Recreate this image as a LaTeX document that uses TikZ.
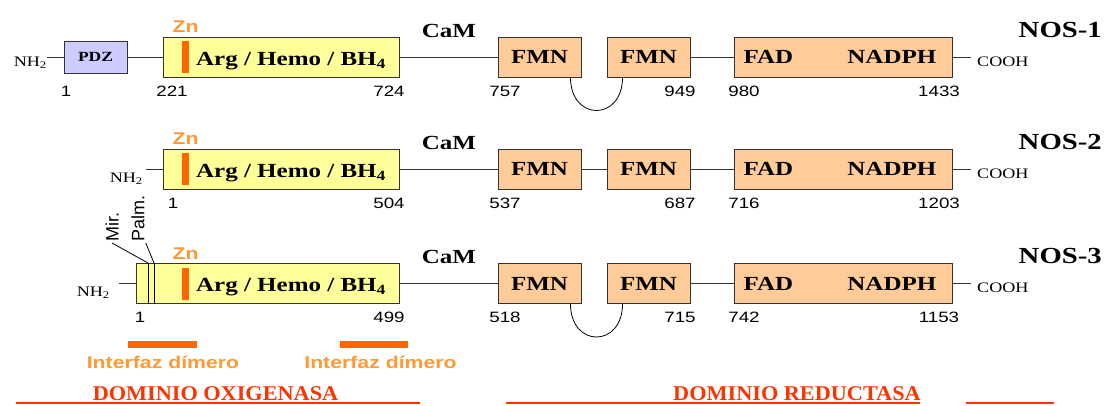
\documentclass[tikz,border=0pt]{standalone}
\usepackage{fontspec}
\setmainfont{Liberation Serif}[FakeStretch=1.25]
\newfontfamily\arialw{Liberation Sans}[FakeStretch=1.25]
\newfontfamily\arialn{Liberation Sans}
\newfontfamily\domfont{Liberation Serif}[FakeStretch=1.06]
\usepackage{tikz}
\usetikzlibrary{positioning}

\definecolor{pdzfill}{HTML}{CCCCFF}
\definecolor{argfill}{HTML}{FFFF99}
\definecolor{redfill}{HTML}{FFCC99}
\definecolor{znorange}{HTML}{FF9933}
\definecolor{barorange}{HTML}{FF6600}
\definecolor{domred}{HTML}{FF3300}

\begin{document}
\begin{tikzpicture}[
		x=1pt,y=-1pt,
		dombox/.style={
			draw=black!80,
			line width=1pt,
			rectangle,
			inner sep=0pt,
			minimum height=40pt
		},
		pdzbox/.style={dombox, fill=pdzfill, minimum width=63pt, minimum height=32pt,
			font=\bfseries\fontsize{14}{14}\selectfont},
		argbox/.style={dombox, fill=argfill},
		redbox/.style={dombox, fill=redfill, font=\bfseries\fontsize{20}{20}\selectfont},
		fmnbox/.style={redbox, minimum width=83pt},
		boxlbl/.style={font=\bfseries\fontsize{20}{20}\selectfont, inner sep=0pt},
		camlbl/.style={font=\bfseries\fontsize{20}{20}\selectfont, inner sep=0pt, anchor=base},
		noslbl/.style={font=\bfseries\fontsize{23}{23}\selectfont, inner sep=0pt, anchor=base east},
		znbar/.style={fill=barorange, minimum width=7pt, minimum height=32pt, inner sep=0pt},
		znlbl/.style={text=znorange, font=\arialw\bfseries\fontsize{17}{17}\selectfont, inner sep=0pt},
		resnum/.style={font=\arialw\fontsize{15}{15}\selectfont, inner sep=0pt, anchor=base},
		term/.style={font=\fontsize{14.5}{14.5}\selectfont, inner sep=0pt},
		rotlbl/.style={rotate=90, font=\arialn\fontsize{18}{18}\selectfont, inner sep=1pt},
		ifbar/.style={fill=barorange, minimum height=7pt, inner sep=0pt},
		iflbl/.style={text=znorange, font=\arialw\bfseries\fontsize{17}{17}\selectfont, inner sep=0pt, anchor=base},
		domlbl/.style={text=domred, font=\domfont\bfseries\fontsize{21}{21}\selectfont, inner sep=0pt, anchor=base},
		link/.style={draw=black!80, line width=1pt},
		thinline/.style={draw=black, line width=0.8pt},
		domline/.style={draw=domred, line width=1.5pt}
		]
		\useasboundingbox (0,0) rectangle (1106,405);
		
		% Rows NOS-1, NOS-2, NOS-3
		\foreach \r/\yc/\aw/\sa/\sx/\ea/\na/\nb/\nc/\nd in {
			1/57/236/221/172/724/757/949/980/1433,
			2/169/236/1/173/504/537/687/716/1203,
			3/283.5/263/1/140/499/518/715/742/1153} {
			% Oxygenase part
			\node[argbox, minimum width=\aw pt, anchor=east] (arg\r) at (400,\yc) {};
			\node[znbar] (bar\r) at (185.5,\yc) {};
			\node[znlbl] (zn\r) at (185.5,{\yc-30}) {Zn};
			\node[boxlbl, anchor=base] (argtxt\r) at (291,{\yc+8}) {Arg / Hemo / BH\textsubscript{4}};
			\node[resnum] at (\sx,{\yc+39}) {\sa};
			\node[resnum] at (389,{\yc+39}) {\ea};
			% CaM and reductase part
			\node[camlbl] (cam\r) at (449,{\yc-20}) {CaM};
			\node[fmnbox] (fmnA\r) at (539.5,\yc) {FMN};
			\node[fmnbox] (fmnB\r) at (648.5,\yc) {FMN};
			\node[redbox, minimum width=218pt] (fad\r) at (843,\yc) {};
			\node[boxlbl, anchor=west] at ([xshift=10pt]fad\r.west) {FAD};
			\node[boxlbl, anchor=east] at ([xshift=-16pt]fad\r.east) {NADPH};
			\node[resnum] at (505,{\yc+39}) {\na};
			\node[resnum] at (680,{\yc+39}) {\nb};
			\node[resnum] at (744,{\yc+39}) {\nc};
			\node[resnum] at (939,{\yc+39}) {\nd};
			\node[term, anchor=base west] (cooh\r) at (977,{\yc+9}) {COOH};
			\node[noslbl] (nos\r) at (1102,{\yc-20}) {NOS-\r};
			% Connectors
			\draw[link] (arg\r) -- (fmnA\r);
			\draw[link] (fmnB\r) -- (fad\r);
			\draw[link] (fad\r.east) -- ([xshift=-6pt]cooh\r.west |- fad\r.east);
		}
		
		% N-terminal ends
		\node[term, anchor=base east] (nh1) at (47,66) {NH\textsubscript{2}};
		\node[pdzbox] (pdz1) at (95.5,57) {PDZ};
		\node[resnum] at (66,96) {1};
		\draw[link] (nh1.east |- pdz1.west) -- (pdz1.west);
		\draw[link] (pdz1) -- (arg1);
		
		\node[term, anchor=base east] (nh2) at (143,182) {NH\textsubscript{2}};
		\draw[link] ([xshift=3pt]nh2.east |- arg2.west) -- (arg2.west);
		
		\node[term, anchor=base east] (nh3) at (110,296) {NH\textsubscript{2}};
		\draw[link] ([xshift=9pt]nh3.east |- arg3.west) -- (arg3.west);
		
		% FMN hinge loops and the NOS-2 link
		\draw[thinline] ([xshift=-11pt]fmnA1.south east) .. controls +(0,44) and +(0,44) .. ([xshift=16pt]fmnB1.south west);
		\draw[thinline] ([xshift=-11pt]fmnA3.south east) .. controls +(0,44) and +(0,44) .. ([xshift=16pt]fmnB3.south west);
		\draw[link] (fmnA2) -- (fmnB2);
		
		% Myristoylation / palmitoylation sites on NOS-3
		\draw[thinline] ([xshift=12pt]arg3.north west) coordinate (mirT) -- ([xshift=12pt]arg3.south west);
		\draw[thinline] ([xshift=18pt]arg3.north west) coordinate (palmT) -- ([xshift=18pt]arg3.south west);
		\node[rotlbl, anchor=west] (mir) at (112,243) {Mir.};
		\node[rotlbl, anchor=west] (palm) at (138,243) {Palm.};
		\draw[thinline] (mir.west) -- (mirT);
		\draw[thinline] (palm.south west) -- (palmT);
		
		% Dimer interface
		\node[ifbar, minimum width=69pt] (ifbarA) at (162.5,344.5) {};
		\node[ifbar, minimum width=68pt] (ifbarB) at (374,344.5) {};
		\node[iflbl] (ifA) at (163,368) {Interfaz dímero};
		\node[iflbl] (ifB) at (380.5,368) {Interfaz dímero};
		
		% Domain titles
		\node[domlbl] (oxi) at (215.5,400) {DOMINIO OXIGENASA};
		\node[domlbl] (redu) at (797,400) {DOMINIO REDUCTASA};
		\draw[domline] ([shift={(-77,3)}]oxi.base west) -- ([shift={(82,3)}]oxi.base east);
		\draw[domline] ([shift={(-167,3)}]redu.base west) -- ([shift={(-1,3)}]redu.base east);
		\draw[domline] ([shift={(45,3)}]redu.base east) -- ([shift={(133,3)}]redu.base east);
	\end{tikzpicture}
\end{document}
